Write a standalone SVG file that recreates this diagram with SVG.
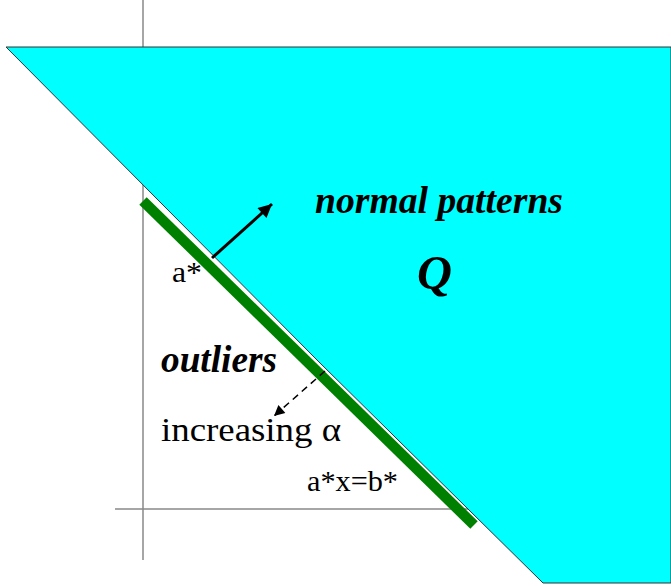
<svg xmlns="http://www.w3.org/2000/svg" width="671" height="586" viewBox="0 0 671 586">
<style>
.axis{stroke:#888;stroke-width:1.5;fill:none}
.reg{fill:#00ffff;stroke:#333;stroke-width:1}
.t{font-family:"Liberation Serif","Times New Roman",serif;fill:#000}
.bi{font-weight:bold;font-style:italic}
</style>
<defs>
<marker id="ah" viewBox="0 0 10 10" refX="10" refY="5" markerWidth="6" markerHeight="4.5" orient="auto" markerUnits="strokeWidth">
<path d="M0,0 L10,5 L0,10 z" fill="#000"/>
</marker>
<marker id="ah2" viewBox="0 0 10 10" refX="10" refY="5" markerWidth="10" markerHeight="7" orient="auto" markerUnits="strokeWidth">
<path d="M0,0 L10,5 L0,10 z" fill="#000"/>
</marker>
</defs>
<g id="axes">
<line class="axis" x1="143" y1="0" x2="143" y2="560"/>
<line class="axis" x1="115" y1="509" x2="470" y2="509"/>
</g>
<g id="region-Q">
<polygon class="reg" points="6,47 671,47 671,583 543,583 318,361"/>
</g>
<g id="boundary">
<line x1="143" y1="201" x2="474" y2="525" stroke="#008000" stroke-width="10.5"/>
</g>
<g id="connectors">
<line x1="212" y1="258" x2="272" y2="204" stroke="#000" stroke-width="3" marker-end="url(#ah)"/>
<line x1="325" y1="371" x2="274" y2="416" stroke="#000" stroke-width="1.5" stroke-dasharray="7,5" marker-end="url(#ah2)"/>
</g>
<g id="labels">
<text class="t bi" x="315" y="213" font-size="37" textLength="248" lengthAdjust="spacingAndGlyphs">normal patterns</text>
<text class="t bi" x="417" y="289" font-size="48" textLength="35" lengthAdjust="spacingAndGlyphs">Q</text>
<text class="t" x="172" y="282" font-size="30" textLength="30" lengthAdjust="spacingAndGlyphs">a*</text>
<text class="t bi" x="161" y="372" font-size="37" textLength="116" lengthAdjust="spacingAndGlyphs">outliers</text>
<text class="t" x="161" y="441" font-size="33" textLength="180" lengthAdjust="spacingAndGlyphs">increasing α</text>
<text class="t" x="307" y="491" font-size="30" textLength="91" lengthAdjust="spacingAndGlyphs">a*x=b*</text>
</g>
</svg>
